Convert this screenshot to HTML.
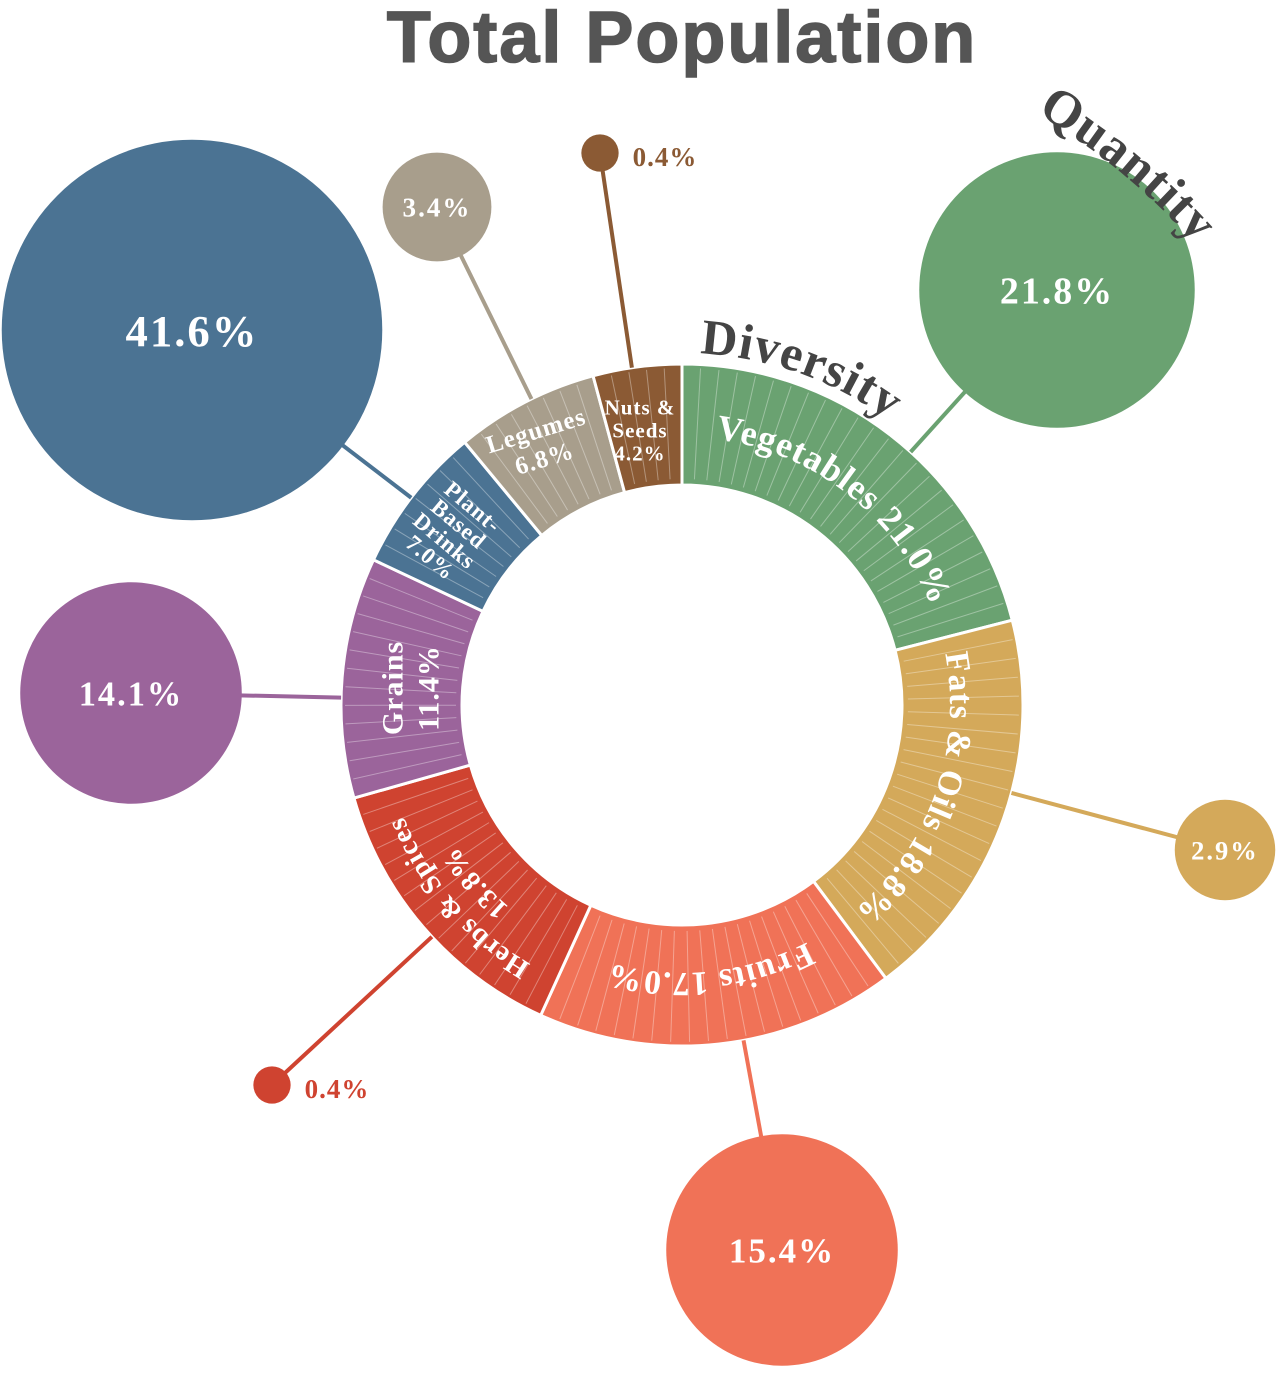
<!DOCTYPE html>
<html><head><meta charset="utf-8"><style>
html,body{margin:0;padding:0;background:#fff;}
svg{display:block;font-family:"Liberation Serif",serif;font-weight:bold;}
</style></head><body>
<svg id="chart" width="1280" height="1373" viewBox="0 0 1280 1373" xmlns="http://www.w3.org/2000/svg">
<text x="682" y="62" text-anchor="middle" font-family="Liberation Sans, sans-serif" font-size="72" font-weight="bold" fill="#555" letter-spacing="2" stroke="#555" stroke-width="1.5">Total Population</text>
<defs></defs>
<g id="ring"></g>
<g id="bubbles"></g>
<g id="labels"></g>
</svg>
<script>
const categories = ["Vegetables","Fats & Oils","Fruits","Herbs & Spices","Grains","Plant-Based Drinks","Legumes","Nuts & Seeds"];
const diversity = [21.0, 18.8, 17.0, 13.8, 11.4, 7.0, 6.8, 4.2];
const quantity = [21.8, 2.9, 15.4, 0.4, 14.1, 41.6, 3.4, 0.4];
const colors = ["#6aa271","#d4a95a","#f07257","#cf4330","#9b649b","#4b7393","#a89e8c","#8b5a34"];
// bubble center layout positions (not data)
const bubblePos = [[1057,290],[1225,850],[782,1250],[272,1085],[131,693],[192,330],[437,207],[600,153]];

const NS="http://www.w3.org/2000/svg";
const cx=682, cy=705, R=341, r0=220;
const total = diversity.reduce((a,b)=>a+b,0);
const ang = v => v/total*2*Math.PI;
const pt = (a,rad)=>[cx+rad*Math.sin(a), cy-rad*Math.cos(a)];
const rScale = v => Math.sqrt(v)*29.5;
function el(t,attrs,parent){const e=document.createElementNS(NS,t);for(const k in attrs)e.setAttribute(k,attrs[k]);parent.appendChild(e);return e;}

const ring=document.getElementById('ring'), bub=document.getElementById('bubbles'), lab=document.getElementById('labels');
let a=0;
const mids=[];
diversity.forEach((v,i)=>{
  const a1=a+ang(v);
  const p1=pt(a,R),p2=pt(a1,R),p3=pt(a1,r0),p4=pt(a,r0);
  const large=(a1-a)>Math.PI?1:0;
  const s=el('path',{d:`M${p1} A${R} ${R} 0 ${large} 1 ${p2} L${p3} A${r0} ${r0} 0 ${large} 0 ${p4}Z`,fill:colors[i],stroke:'#fff','stroke-width':3},ring);
  
  
  const n=Math.max(2,Math.round((a1-a)/0.055));
  for(let k=1;k<n;k++){const aa=a+(a1-a)*k/n;const q1=pt(aa,r0+6),q2=pt(aa,R-4);
    const ln=el('line',{x1:q1[0],y1:q1[1],x2:q2[0],y2:q2[1],stroke:'#fff','stroke-opacity':0.35,'stroke-width':1},ring);
    
    }
  mids.push([a,a1]);
  a=a1;
});

quantity.forEach((v,i)=>{
  const [bx,by]=bubblePos[i];
  const dx=bx-cx,dy=by-cy,d=Math.hypot(dx,dy);
  const ex=cx+dx/d*R, ey=cy+dy/d*R;
  const ln=el('line',{x1:bx,y1:by,x2:ex,y2:ey,stroke:colors[i],'stroke-width':4},bub);
  
  
  const c=el('circle',{cx:bx,cy:by,r:rScale(v),fill:colors[i]},bub);
  
  
  const rr=rScale(v);
  let t;
  if(rr<30){
    t=el('text',{x:bx+rr+14,y:by+13,fill:colors[i],'font-size':27,'letter-spacing':1},bub);
  } else {
    const fs=20+rr*0.13;
    t=el('text',{x:bx,y:by+fs*0.36,'text-anchor':'middle',fill:'#fff','font-size':fs,'letter-spacing':2},bub);
  }
  t.textContent=v.toFixed(1)+'%';
  
  
});

const defs=document.querySelector('defs');
function arcText(id,a0,a1,rad,txt,fs,fill,parent,ls){
  const p1=pt(a0,rad),p2=pt(a1,rad);
  el('path',{id:id,d:`M${p1} A${rad} ${rad} 0 0 1 ${p2}`,fill:'none'},defs);
  const t=el('text',{'font-size':fs,fill:fill,'letter-spacing':ls||1},parent);
  
  
  const tp=el('textPath',{href:'#'+id,startOffset:'50%','text-anchor':'middle'},t);
  tp.textContent=txt;
}
const lbl=i=>diversity[i].toFixed(1)+'%';
arcText('veg',mids[0][0],mids[0][1],268,'Vegetables '+lbl(0),36,'#fff',lab);
arcText('fats',mids[1][0],mids[1][1],268,'Fats & Oils '+lbl(1),34,'#fff',lab);
arcText('fruits',mids[2][0],mids[2][1],268,'Fruits '+lbl(2),34,'#fff',lab);
arcText('herbs1',mids[3][0],mids[3][1],300,'Herbs & Spices',28,'#fff',lab);
arcText('herbs2',mids[3][0],mids[3][1],266,lbl(3),28,'#fff',lab);
arcText('diversity',-0.02,0.70,352,'Diversity',50,'#444',lab,1);
arcText('quantity',0.40,0.98,690,'Quantity',52,'#444',lab,1);

function rotText(lines,x,y,rot,fs,lh){
  const g=el('g',{transform:`translate(${x},${y}) rotate(${rot})`},lab);
  
  
  lines.forEach((s,k)=>{const t=el('text',{x:0,y:(k-(lines.length-1)/2)*lh+fs*0.35,'text-anchor':'middle','font-size':fs,fill:'#fff','letter-spacing':1},g);t.textContent=s;});
}
rotText(['Grains',lbl(4)],410,688,-90,30,36);
rotText(['Plant-','Based','Drinks',lbl(5)],452,532,40,23,22);
rotText(['Legumes',lbl(6)],540,444,-17,25,29);
rotText(['Nuts &','Seeds',lbl(7)],640,430,0,21,23);
</script>
</body></html>
